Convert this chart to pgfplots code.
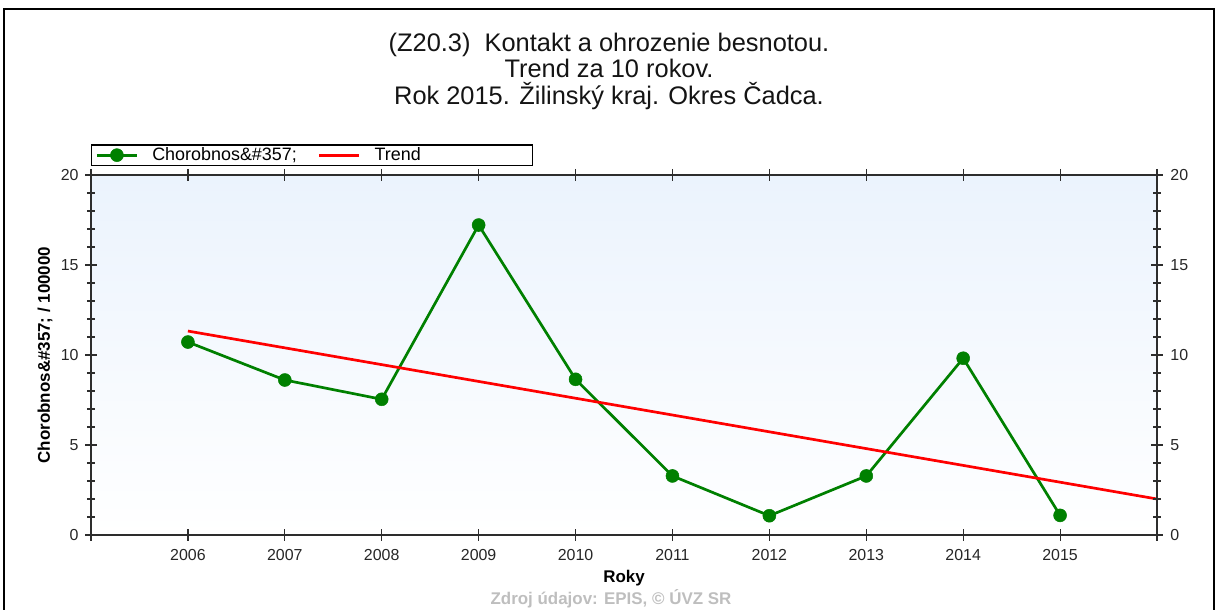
\documentclass[border=0pt]{standalone}
\usepackage{fontspec}
\setmainfont{Liberation Sans}
\usepackage{pgfplots}
\pgfplotsset{compat=1.18}
\definecolor{gr}{RGB}{0,128,0}
\definecolor{bgtop}{RGB}{235,243,253}
\definecolor{axc}{RGB}{45,45,45}
\definecolor{foot}{RGB}{190,190,190}
\begin{document}
\begin{tikzpicture}[x=1bp,y=1bp]
\useasboundingbox (-91,-75) rectangle (1127,535);
\draw[line width=1.5bp, black] (-87,-80) -- (-87,526) -- (1123,526) -- (1123,-80);
\node[anchor=base, font=\fontsize{25.5}{29}\selectfont, text=black!92] at (518,483) {(Z20.3)\ \ Kontakt a ohrozenie besnotou.};
\node[anchor=base, font=\fontsize{25.5}{29}\selectfont, text=black!92] at (518,457) {Trend za 10 rokov.};
\node[anchor=base, font=\fontsize{25.5}{29}\selectfont, text=black!92] at (518,430) {Rok 2015. Žilinský kraj. Okres Čadca.};
\node[anchor=base, font=\bfseries\fontsize{17}{20}\selectfont, text=foot] at (520,-70) {Zdroj údajov: EPIS, © ÚVZ SR};
\begin{axis}[
  at={(0,0)}, anchor=south west,
  scale only axis, width=1066bp, height=360bp,
  xmin=2005, xmax=2016, ymin=0, ymax=20,
  axis background/.style={top color=bgtop, bottom color=white},
  axis line style={axc, line width=1.5bp},
  xtick={2005,2006,2007,2008,2009,2010,2011,2012,2013,2014,2015,2016},
  xticklabels={{},2006,2007,2008,2009,2010,2011,2012,2013,2014,2015,{}},
  xtick pos=both,
  ytick={0,5,10,15,20},
  minor y tick num=4,
  ytick pos=left,
  tick align=center,
  major tick length=12bp, minor tick length=8bp,
  tick style={axc, line width=1.2bp},
  tick label style={font=\fontsize{16}{19}\selectfont, text=black!85},
  xticklabel style={yshift=-5bp},
  yticklabel style={xshift=-3bp},
  /pgf/number format/assume math mode=true,
  every axis y label/.style={at={(axis description cs:-0.0432,0.5)}, anchor=center, rotate=90},
  every axis x label/.style={at={(axis description cs:0.5,-0.1333)}, anchor=base},
  ylabel={\bfseries\fontsize{17}{20}\selectfont Chorobnos\symbol{38}\#357; / 100000},
  xlabel={\bfseries\fontsize{17}{20}\selectfont Roky},
  legend style={at={(0,1)}, anchor=south west, yshift=9bp, draw=black, line width=1.2bp, fill=white,
    font=\fontsize{18}{21}\selectfont, inner xsep=4bp, inner ysep=1bp,
    /tikz/every odd column/.append style={column sep=12bp},
    /tikz/every even column/.append style={column sep=19bp}},
  legend columns=-1,
  legend cell align=left,
  legend image code/.code={\draw[mark repeat=2,mark phase=2,#1] plot coordinates {(0bp,0bp) (20bp,0bp) (40bp,0bp)};},
]
\addplot[gr, line width=2.7bp, mark=*, mark size=6.5bp, mark options={fill=gr, draw=gr, line width=0.5bp}] coordinates {
  (2006,10.72) (2007,8.61) (2008,7.54) (2009,17.22) (2010,8.65)
  (2011,3.28) (2012,1.07) (2013,3.28) (2014,9.82) (2015,1.09)
};
\addlegendentry{Chorobnos\symbol{38}\#357;}
\addplot[red, line width=2.7bp, mark=none] coordinates {(2006,11.33) (2016,2.0)};
\addlegendentry[text width=152bp, align=left]{Trend}
\end{axis}
\begin{axis}[
  at={(0,0)}, anchor=south west,
  scale only axis, width=1066bp, height=360bp,
  xmin=2005, xmax=2016, ymin=0, ymax=20,
  axis x line=none, axis y line*=right,
  axis line style={axc, line width=1.5bp},
  ytick={0,5,10,15,20},
  minor y tick num=4,
  tick align=center,
  major tick length=12bp, minor tick length=8bp,
  tick style={axc, line width=1.2bp},
  tick label style={font=\fontsize{16}{19}\selectfont, text=black!85},
  yticklabel style={xshift=4bp},
  /pgf/number format/assume math mode=true,
]
\end{axis}
\end{tikzpicture}
\end{document}
